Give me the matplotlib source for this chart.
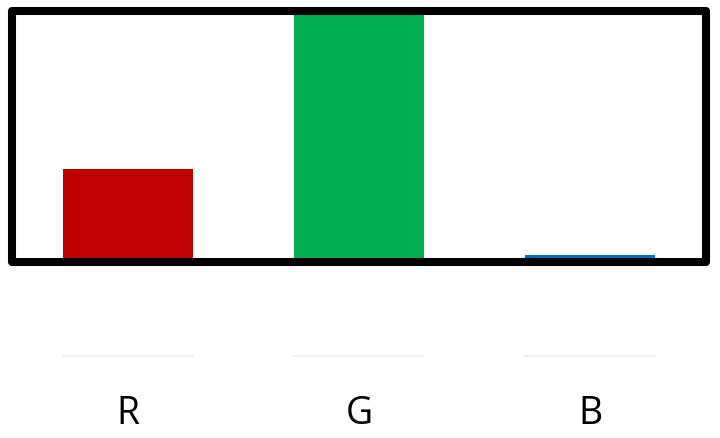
import matplotlib
matplotlib.use("Agg")
import matplotlib.pyplot as plt
import matplotlib.transforms as mtransforms
from matplotlib.patches import Rectangle

categories = ["R", "G", "B"]
values = [37, 100, 2.8]
colors = ["#C00000", "#00B050", "#0070C0"]

fig = plt.figure(figsize=(7.2, 4.38), dpi=100)
ax = fig.add_axes([12 / 720, 176 / 438, 694 / 720, 251 / 438])

x = range(len(categories))
ax.bar(x, values, width=0.56, color=colors, zorder=2)
ax.set_xlim(-0.502, 2.502)
ax.set_ylim(0, 100)

# thick frame drawn as one rectangle so the corners join cleanly
for s in ax.spines.values():
    s.set_visible(False)
frame = Rectangle((0, 0), 1, 1, transform=ax.transAxes, fill=False,
                  edgecolor="black", linewidth=5.8, joinstyle="round",
                  clip_on=False, zorder=5)
ax.add_patch(frame)

# faint underline below each category
trans = mtransforms.blended_transform_factory(ax.transData, ax.transAxes)
for i in x:
    ax.plot([i - 0.28, i + 0.28], [-0.375, -0.375], color="#eeeeee",
            linewidth=1.2, transform=trans, clip_on=False)

ax.set_yticks([])
ax.set_xticks(list(x))
ax.set_xticklabels(categories, fontsize=27, family="Open Sans")
ax.tick_params(axis="x", length=0, pad=96)

fig.savefig("out.png", dpi=100)
